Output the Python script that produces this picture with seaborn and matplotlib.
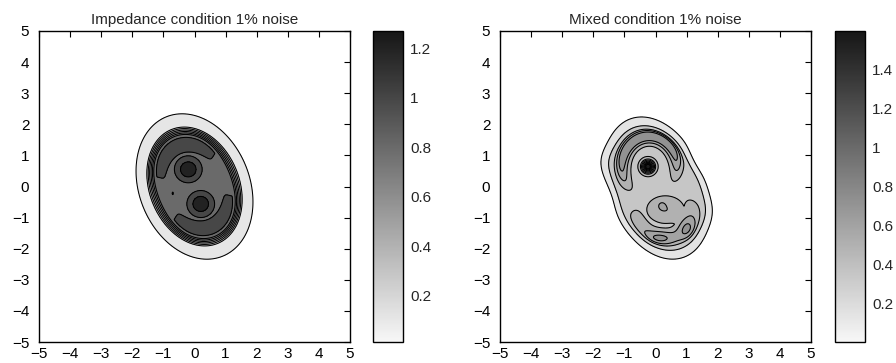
import numpy as np
import matplotlib
matplotlib.use('Agg')
import matplotlib.pyplot as plt
import seaborn as sns
from matplotlib.colors import Normalize
from matplotlib.cm import ScalarMappable

# ---- data ----
# left panel: impedance condition
imp_title = 'Impedance condition 1% noise'
imp_center = [0.0, 0.0]
imp_semi_axes = [2.0, 1.47]
imp_tilt = 22
imp_height = 0.8
imp_ramp = 0.22
imp_skirt = 0.15
imp_skirt_r = 1.18
imp_peak_x = [-0.2, 0.2, -0.70]
imp_peak_y = [0.55, -0.56, -0.22]
imp_peak_amp = [0.338, 0.338, 0.15]
imp_peak_sx = [0.3, 0.3, 0.02]
imp_peak_sy = [0.29, 0.29, 0.045]
imp_peak_pow = [4, 4, 2]
imp_cap_amp = [0.25, 0.25]
imp_cap_dir = [0, 180]
imp_levels = [0.02, 0.2, 0.3, 0.4, 0.5, 0.6, 0.7, 0.9, 1.1, 1.3]
imp_clim = [0.014, 1.27]
imp_cbar_ticks = [0.2, 0.4, 0.6, 0.8, 1.0, 1.2]
imp_cbar_labels = ['0.2', '0.4', '0.6', '0.8', '1', '1.2']

# right panel: mixed condition
mix_title = 'Mixed condition 1% noise'
mix_center = [0.05, -0.05]
mix_semi_axes = [2.03, 1.32]
mix_tilt = 22
mix_height = 0.38
mix_skirt = 0.2
mix_skirt_r = 1.13
mix_lump_x = [1.35, -1.45, -1.75, 1.75]
mix_lump_y = [0.85, -0.35, 0.8, -0.8]
mix_lump_amp = [-0.08, -0.07, 0.08, 0.06]
mix_arc_cx = [-0.2, 0.28]
mix_arc_cy = [0.65, -0.9]
mix_arc_rx = [0.88, 0.9]
mix_arc_ry = [0.98, 0.8]
mix_arc_width = [0.25, 0.42]
mix_arc_amp = [0.4, 0.17]
mix_arc_dir = [100, 282]
mix_arc_span = [112, 115]
mix_blob_x = [0.32]
mix_blob_y = [-0.74]
mix_blob_amp = [0.17]
mix_blob_sx = [0.45]
mix_blob_sy = [0.33]
mix_peak_x = [-0.24, -0.24, 0.2, 0.14, 1.0]
mix_peak_y = [0.64, 0.64, -0.6, -1.65, -1.35]
mix_peak_amp = [0.1, 1.15, 0.06, 0.14, 0.14]
mix_peak_sx = [0.3, 0.11, 0.08, 0.3, 0.2]
mix_peak_sy = [0.3, 0.11, 0.08, 0.16, 0.25]
mix_levels = [0.05, 0.25, 0.45, 0.55, 0.65, 0.8, 1.0, 1.2, 1.4, 1.7]
mix_clim = [0.004, 1.6]
mix_cbar_ticks = [0.2, 0.4, 0.6, 0.8, 1.0, 1.2, 1.4]
mix_cbar_labels = ['0.2', '0.4', '0.6', '0.8', '1', '1.2', '1.4']

axis_ticks = list(range(-5, 6))

# ---- build the fields ----
grid = np.linspace(-5, 5, 601)
X, Y = np.meshgrid(grid, grid)


def window(theta, center, span):
    d = np.angle(np.exp(1j * (theta - center)))
    return np.exp(-(d / span) ** 4)


def bump(cx, cy, sx, sy, p=2):
    q = 0.5 * (((X - cx) / sx) ** 2 + ((Y - cy) / sy) ** 2)
    return np.exp(-q ** (p / 2))


def falloff(r, r0, s):
    return 1 / (1 + np.exp((r - r0) / s))


def body(center, semi, tilt):
    t = np.deg2rad(tilt)
    dx, dy = X - center[0], Y - center[1]
    v = -dx * np.sin(t) + dy * np.cos(t)
    w = dx * np.cos(t) + dy * np.sin(t)
    r = np.hypot(v / semi[0], w / semi[1])
    return r, np.arctan2(w / semi[1], v / semi[0])


# impedance: flat top, linear ramp at the rim and a low skirt outside
r, alpha = body(imp_center, imp_semi_axes, imp_tilt)
inside = falloff(r, 0.585, -0.02)
top = np.full_like(X, imp_height)
for amp, d in zip(imp_cap_amp, imp_cap_dir):
    top += amp * inside * window(alpha, np.deg2rad(d), 1.1)
for px, py, a, sx, sy, p in zip(imp_peak_x, imp_peak_y, imp_peak_amp,
                                imp_peak_sx, imp_peak_sy, imp_peak_pow):
    top += a * bump(px, py, sx, sy, p)
ramp = np.clip((1 - r) / imp_ramp, 0, 1)
imp_field = imp_skirt * falloff(r, imp_skirt_r, 0.015) + (top - imp_skirt) * ramp

# mixed
r, alpha = body(mix_center, mix_semi_axes, mix_tilt)
for lx, ly, a in zip(mix_lump_x, mix_lump_y, mix_lump_amp):
    r = r - a * bump(lx, ly, 0.4, 0.4)
steep = falloff(r, 1, 0.03)
mix_base = mix_skirt * falloff(r, mix_skirt_r, 0.04) + (mix_height - mix_skirt) * steep
shapes = []
for cx, cy, rx, ry, wd, a, d, sp in zip(mix_arc_cx, mix_arc_cy, mix_arc_rx, mix_arc_ry,
                                         mix_arc_width, mix_arc_amp, mix_arc_dir, mix_arc_span):
    rho = np.hypot((X - cx) / rx, (Y - cy) / ry)
    th = np.arctan2((Y - cy) / ry, (X - cx) / rx)
    shapes.append(a * np.exp(-((rho - 1) / wd) ** 2) * window(th, np.deg2rad(d), np.deg2rad(sp)))
for px, py, a, sx, sy in zip(mix_blob_x, mix_blob_y, mix_blob_amp, mix_blob_sx, mix_blob_sy):
    shapes.append(a * bump(px, py, sx, sy))
extra = np.maximum.reduce(shapes)
for px, py, a, sx, sy in zip(mix_peak_x, mix_peak_y, mix_peak_amp, mix_peak_sx, mix_peak_sy):
    extra += a * bump(px, py, sx, sy)
mix_field = mix_base + steep * extra

# ---- draw ----
sns.set_style('white')
plt.rcParams['font.family'] = ['Liberation Sans', 'DejaVu Sans']
cmap = sns.blend_palette(['#f7f7f7', '#161616'], as_cmap=True)

fig = plt.figure(figsize=(8.96, 3.63), dpi=100)
panels = [
    (imp_field, imp_levels, imp_clim, imp_title, imp_cbar_ticks, imp_cbar_labels,
     [39 / 896, 21 / 363, 311 / 896, 311 / 363], [373 / 896, 21 / 363, 30 / 896, 311 / 363]),
    (mix_field, mix_levels, mix_clim, mix_title, mix_cbar_ticks, mix_cbar_labels,
     [500 / 896, 21 / 363, 311 / 896, 311 / 363], [835 / 896, 21 / 363, 30 / 896, 311 / 363]),
]
for field, levels, clim, title, cticks, clabels, apos, cpos in panels:
    ax = fig.add_axes(apos)
    norm = Normalize(vmin=clim[0], vmax=clim[1])
    ax.contourf(X, Y, field, levels=levels, cmap=cmap, norm=norm)
    ax.contour(X, Y, field, levels=levels, colors='k', linewidths=0.75)
    ax.set_xlim(-5, 5)
    ax.set_ylim(-5, 5)
    ax.set_xticks(axis_ticks)
    ax.set_yticks(axis_ticks)
    ax.tick_params(direction='in', top=True, right=True, length=4, width=0.8,
                   labelsize=11, colors='k')
    ax.tick_params(axis='y', pad=7)
    ax.tick_params(axis='x', pad=3.5)
    for s in ax.spines.values():
        s.set_visible(True)
        s.set_color('k')
        s.set_linewidth(1)
    ax.set_title(title, fontsize=11, pad=5)

    cax = fig.add_axes(cpos)
    cb = fig.colorbar(ScalarMappable(norm=norm, cmap=cmap), cax=cax)
    cb.set_ticks(cticks)
    cb.set_ticklabels(clabels)
    cax.tick_params(direction='in', left=True, right=True, length=3, width=0.8,
                    labelsize=11, pad=5)
    cb.outline.set_linewidth(1)
    cb.outline.set_edgecolor('k')

fig.savefig('out.png', dpi=100)
